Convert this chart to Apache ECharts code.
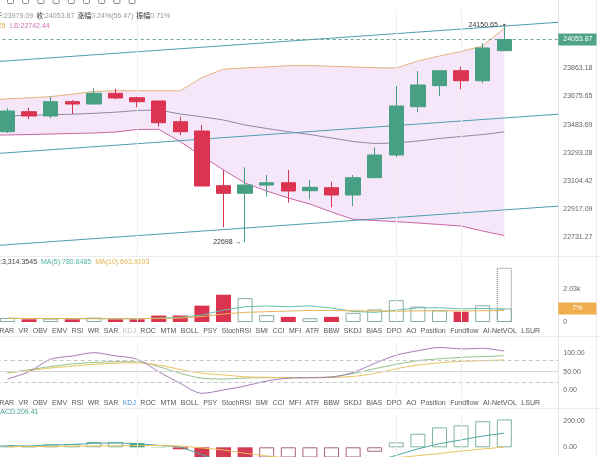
<!DOCTYPE html>
<html>
<head>
<meta charset="utf-8">
<title>K线图</title>
<script src="https://cdn.jsdelivr.net/npm/echarts@6.0.0/dist/echarts.min.js"></script>
<style>
  html, body { margin: 0; padding: 0; background: #ffffff; }
  #chart { width: 600px; height: 457px; }
</style>
</head>
<body>
<div id="chart"></div>
<script>
// ---------- data ----------
const slots = Array.from({ length: 26 }, (_, i) => String(i + 1)); // 24 candles + 2 empty slots on the right

const candleOpen  = [23437.1, 23570.9, 23542.2, 23637.8, 23622.4, 23694.0, 23664.5, 23642.5, 23503.8, 23441.8, 23075.9, 23025.0, 23080.0, 23095.9, 23042.4, 23062.5, 23013.7, 23129.4, 23281.3, 23604.4, 23744.9, 23845.2, 23778.3, 23979.09];
const candleClose = [23575.6, 23542.2, 23637.8, 23622.4, 23694.0, 23662.6, 23637.8, 23497.3, 23437.1, 23073.9, 23025.0, 23080.6, 23095.9, 23040.4, 23065.2, 23013.7, 23129.4, 23281.3, 23609.1, 23749.6, 23845.2, 23778.3, 23997.4, 24053.87];
const candleLow   = [23428.4, 23522.1, 23526.8, 23555.5, 23618.0, 23653.9, 23600.4, 23470.6, 23415.1, 23073.9, 22797.6, 22698.0, 23002.3, 22962.1, 22984.9, 22931.4, 22940.1, 23129.4, 23265.9, 23566.9, 23676.0, 23720.8, 23761.0, 23979.09];
const candleHigh  = [23595.7, 23597.7, 23671.3, 23649.2, 23727.5, 23724.8, 23671.3, 23645.0, 23537.5, 23482.0, 23180.9, 23199.0, 23147.5, 23180.9, 23114.0, 23102.6, 23147.5, 23332.8, 23742.9, 23843.2, 23845.2, 23872.0, 24028.5, 24150.65];

// Bollinger bands (the *Edge values sit at the left border, half a slot before the first candle)
const bollUpper = [23657.2, 23663.9, 23671.9, 23688.0, 23706.1, 23711.4, 23711.4, 23711.4, 23711.4, 23799.1, 23855.3, 23863.3, 23870.6, 23878.7, 23879.3, 23874.7, 23870.0, 23865.3, 23863.3, 23910.1, 23943.6, 23973.7, 24010.5, 24129.25];
const bollMid   = [23543.5, 23546.2, 23550.2, 23554.2, 23560.2, 23567.6, 23579.0, 23582.3, 23555.5, 23536.8, 23515.4, 23482.0, 23458.5, 23437.1, 23418.4, 23395.0, 23371.6, 23358.2, 23361.5, 23374.9, 23391.6, 23405.0, 23418.4, 23435.85];
const bollLower = [23415.1, 23418.4, 23421.7, 23425.1, 23428.4, 23435.1, 23451.8, 23453.2, 23370.2, 23274.6, 23180.9, 23093.9, 23040.4, 22993.6, 22953.4, 22899.9, 22851.1, 22843.1, 22835.0, 22826.3, 22816.3, 22806.3, 22772.8, 22742.44];
const bollUpperEdge = 23653.9;
const bollMidEdge   = 23542.2;
const bollLowerEdge = 23415.1;

// Regression channel: [start, end] in slot units and prices
const channelSpan  = [-0.35, 25.5];
const channelUpper = [23907.6, 24169.2];
const channelMid   = [23292.6, 23554.2];
const channelLower = [22677.6, 22939.2];

// Volume
const volume         = [250, 167, 208, 167, 271, 167, 167, 396, 396, 1000, 1667, 1458, 417, 313, 230, 313, 560, 770, 1330, 940, 710, 625, 1020, 830];
const volumeForecast = 3314.3545;
const volumeMA5      = [230, 210, 215, 200, 210, 200, 195, 240, 280, 430, 730, 930, 980, 930, 990, 850, 650, 590, 720, 870, 870, 800, 830, 780.8485];
const volumeMA10     = [220, 215, 210, 210, 205, 205, 205, 220, 240, 330, 490, 590, 630, 670, 700, 700, 690, 670, 660, 680, 690, 680, 690, 693.9103];

// KDJ
const kdjK = [46, 55, 64, 71, 75, 77, 77, 63.5, 45.5, 32, 30, 32.7, 33.5, 33.5, 34, 36, 45, 58, 70, 80, 85, 89, 91, 93.5];
const kdjD = [48, 53, 60, 65, 70, 73, 74, 68, 56, 45.5, 41, 36, 34.6, 33.5, 33.5, 34, 37, 45, 58, 68, 74, 78, 80, 82];
const kdjJ = [30, 50, 84, 92.6, 101.7, 93, 84, 50, 18, -9, 0, 11, 24.5, 32, 33.5, 35, 48, 72.6, 95, 107, 116, 112, 113.5, 106];
const kdjLevels = [80, 50, 20];

// MACD
const macdHist = [15, 8, 22, 25, 40, 40, 30, 2, -15, -120, -180, -200, -190, -170, -140, -110, -80, -33, 37, 102, 150, 165, 196, 209.41];
const macdDIF  = [12, 10, 18, 21, 30, 32, 28, 14, 3, -55, -110, -145, -160, -165, -160, -150, -135, -108, -60, -12, 28, 55, 85, 107];
const macdDEA  = [4, 6, 7, 9, 10, 12, 13, 13, 10, -5, -20, -45, -65, -80, -90, -95, -95, -92, -78, -63, -47, -28, -13, 2];

// Axis tick labels
const priceTicks  = [23863.18, 23675.65, 23483.69, 23293.28, 23104.42, 22917.09, 22731.27];
const volumeTicks = [0, 2030];
const kdjTicks    = [0, 50, 100];
const macdTicks   = [0, 200];

const indicatorTabs = ['MRAR', 'VR', 'OBV', 'EMV', 'RSI', 'WR', 'SAR', 'KDJ', 'ROC', 'MTM', 'BOLL', 'PSY', 'StochRSI', 'SMI', 'CCI', 'MFI', 'ATR', 'BBW', 'SKDJ', 'BIAS', 'DPO', 'AO', 'Position', 'Fundflow', 'AI-NetVOL', 'LSUR'];
const gridMarks = [6, 18, 21];   // slot indices carrying a vertical guide line
const volumeTag = '7%';

// ---------- styling ----------
const FONT = '"Liberation Sans", "Noto Sans CJK SC", sans-serif';
const UP = '#47a083';
const DOWN = '#db3350';
const last = candleClose.length - 1;

const GRID_LEFT = -3.3, GRID_WIDTH = 561.6;
const panels = [
  { top: 10,  height: 245 },
  { top: 260, height: 62 },
  { top: 343, height: 54 },
  { top: 415, height: 42 }
];
const AXIS_X = GRID_LEFT + GRID_WIDTH;

const measureCtx = document.createElement('canvas').getContext('2d');
function textWidth(str, size) {
  measureCtx.font = size + 'px ' + FONT;
  return measureCtx.measureText(str).width;
}
function textEl(str, x, y, color, size, align) {
  return {
    type: 'text', x: x, y: y, z: 20, silent: true,
    style: { text: str, fill: color, font: size + 'px ' + FONT, align: align || 'left', verticalAlign: 'middle' }
  };
}
function textRow(parts, x, y, size) {
  const out = [];
  let cx = x;
  parts.forEach(p => {
    out.push(textEl(p.text, cx, y, p.color, size));
    cx += textWidth(p.text, size) + (p.gap || 0);
  });
  return out;
}
function tabRow(y, activeColor) {
  const size = 7;
  const widths = indicatorTabs.map(t => textWidth(t, size));
  const total = widths.reduce((a, b) => a + b, 0);
  const startX = -6.5, endX = 540;
  const gap = (endX - startX - total) / (indicatorTabs.length - 1);
  const out = [];
  let cx = startX;
  indicatorTabs.forEach((t, i) => {
    out.push(textEl(t, cx, y, t === 'KDJ' ? activeColor : '#555', size));
    cx += widths[i] + gap;
  });
  return out;
}
function hline(y, color) {
  return { type: 'line', z: 1, silent: true, shape: { x1: 0, y1: y, x2: 600, y2: y }, style: { stroke: color, lineWidth: 1 } };
}
function vline(x, color) {
  return { type: 'line', z: 1, silent: true, shape: { x1: x, y1: 0, x2: x, y2: 457 }, style: { stroke: color, lineWidth: 1 } };
}
// toolbar icons along the top edge (only their lower halves are in view)
function toolbarIcons() {
  const out = [];
  let x = 7;
  for (let i = 0; i < 9; i++) {
    out.push({ type: 'rect', z: 20, silent: true, shape: { x: x + 0.5, y: -4.5, width: 6, height: 8, r: 1 },
               style: { fill: 'none', stroke: '#8a8a8a', lineWidth: 1 } });
    x += 15.2;
  }
  return out;
}
function sideAxis(gridIndex, min, max, ticks, fmt) {
  return {
    type: 'value', gridIndex, position: 'right', min, max,
    axisLine: { show: false }, axisTick: { show: false }, splitLine: { show: false },
    axisLabel: { customValues: ticks, formatter: fmt, fontSize: 7, color: '#666', margin: 5, fontFamily: FONT }
  };
}
const guideLines = {
  silent: true, symbol: 'none', label: { show: false },
  lineStyle: { color: '#eeeeee', width: 1, type: 'solid' },
  data: gridMarks.map(i => ({ xAxis: i }))
};

// ---------- series data ----------
const candles = candleOpen.map((o, i) => [o, candleClose[i], candleLow[i], candleHigh[i]]);
const isUp = i => candleClose[i] >= candleOpen[i];
const bandData = (edge, vals) => [[channelSpan[0], edge]].concat(vals.map((v, i) => [i, v]));

const volumeItems = volume.map((v, i) => ({
  value: v,
  itemStyle: isUp(i)
    ? { color: 'rgba(255,255,255,0)', borderColor: '#86ad9f', borderWidth: 1 }
    : { color: DOWN, borderColor: DOWN, borderWidth: 0 }
}));
const forecastItems = volume.map((_, i) => (i === last ? volumeForecast : '-'));

const macdItems = macdHist.map((v, i) => {
  const prev = i > 0 ? macdHist[i - 1] : -Infinity;
  let style;
  if (v >= 0) {
    style = v >= prev
      ? { color: 'rgba(255,255,255,0)', borderColor: '#7fb49c', borderWidth: 1 }
      : { color: UP, borderColor: UP, borderWidth: 0 };
  } else {
    style = v <= prev
      ? { color: '#d23a52', borderColor: '#d23a52', borderWidth: 0 }
      : { color: 'rgba(255,255,255,0)', borderColor: '#a86470', borderWidth: 1 };
  }
  return { value: v, itemStyle: style };
});

const channelData = vals => channelSpan.map((x, i) => [x, vals[i]]);
const plainLine = (name, data, color, xi, yi, extra) => Object.assign({
  name, type: 'line', data, xAxisIndex: xi, yAxisIndex: yi,
  showSymbol: false, symbol: 'none', lineStyle: { color, width: 1 }, z: 3
}, extra || {});

// ---------- header texts ----------
const prevClose = candleClose[last - 1];
const change = candleClose[last] - prevClose;
const changePct = change / prevClose * 100;
const amplitude = (candleHigh[last] - candleLow[last]) / prevClose * 100;
const valColor = '#8f9a97';
const dark = '#333';

const graphics = [].concat(
  toolbarIcons(),
  textRow([
    { text: '开:', color: dark },
    { text: candleOpen[last].toFixed(2), color: valColor, gap: 3 },
    { text: '收:', color: dark },
    { text: candleClose[last].toFixed(2), color: valColor, gap: 3 },
    { text: '涨幅', color: dark },
    { text: changePct.toFixed(2) + '%(' + change.toFixed(2) + ')', color: valColor, gap: 3 },
    { text: '振幅', color: dark },
    { text: (Math.floor(amplitude * 100) / 100).toFixed(2) + '%', color: valColor }
  ], -5, 16, 7),
  [textEl('UB:' + bollUpper[last].toFixed(2), 5.5, 26, '#e2ad45', 7, 'right')],
  textRow([{ text: 'LB:' + bollLower[last].toFixed(2), color: '#d374b0' }], 10, 26, 7),
  [textEl('成交量:', 2, 262, '#444', 7, 'right')],
  textRow([
    { text: volumeForecast.toLocaleString('en-US', { minimumFractionDigits: 4 }), color: '#444', gap: 4 },
    { text: 'MA(5):' + volumeMA5[last].toFixed(4), color: '#4fb3a2', gap: 4 },
    { text: 'MA(10):' + volumeMA10[last].toFixed(4), color: '#e2b04a' }
  ], 2, 262, 7),
  textRow([{ text: 'MACD:' + macdHist[last].toFixed(2), color: '#3f9f8e' }], -5.5, 412, 7),
  tabRow(331, '#bdbdbd'),
  tabRow(402.7, '#4b8fd6'),
  [hline(256.5, '#ececec'), hline(336.5, '#ececec'), hline(408.5, '#ececec'),
   vline(Math.round(AXIS_X) + 0.5, '#e6e6e6'), vline(596.5, '#ececec')]
);

// ---------- option ----------
const option = {
  animation: false,
  backgroundColor: '#ffffff',
  textStyle: { fontFamily: FONT },
  grid: panels.map(p => ({ left: GRID_LEFT, width: GRID_WIDTH, top: p.top, height: p.height, outerBoundsMode: 'none', containLabel: false })),
  xAxis: panels.map((_, g) => ({ type: 'category', gridIndex: g, data: slots, boundaryGap: true, show: false }))
    .concat([{ type: 'value', gridIndex: 0, min: -0.5, max: 25.5, show: false }]),
  yAxis: [
    sideAxis(0, 22612.3, 24251.3, priceTicks, v => v.toFixed(2)),
    sideAxis(1, 0, 3790, volumeTicks, v => (v === 0 ? '0' : (v / 1000).toFixed(2) + 'k')),
    sideAxis(2, -19.1, 128.1, kdjTicks, v => v.toFixed(2)),
    sideAxis(3, -72.9, 242.9, macdTicks, v => v.toFixed(2))
  ],
  series: [
    // Bollinger band fill: lavender under the upper band, white under the lower band
    plainLine('UB', bandData(bollUpperEdge, bollUpper), '#e4b27c', 4, 0, { z: 1, areaStyle: { color: '#f5e7f9', opacity: 1, origin: 'start' } }),
    plainLine('LB', bandData(bollLowerEdge, bollLower), '#c9679f', 4, 0, { z: 1, areaStyle: { color: '#ffffff', opacity: 1, origin: 'start' } }),
    plainLine('MB', bandData(bollMidEdge, bollMid), '#8c8aa2', 4, 0, { z: 2 }),
    plainLine('通道上轨', channelData(channelUpper), '#4d9db0', 4, 0),
    plainLine('通道中轨', channelData(channelMid), '#4d9db0', 4, 0),
    plainLine('通道下轨', channelData(channelLower), '#4d9db0', 4, 0),
    {
      name: 'K线', type: 'candlestick', xAxisIndex: 0, yAxisIndex: 0, data: candles, barWidth: 15, z: 5,
      itemStyle: { color: UP, color0: DOWN, borderColor: UP, borderColor0: DOWN, borderWidth: 1 },
      markLine: {
        silent: true, symbol: 'none',
        lineStyle: { color: '#6f9f8f', width: 1, type: [3, 3] },
        label: {
          position: 'end', distance: 0, formatter: () => candleClose[last].toFixed(2),
          backgroundColor: '#4fa386', color: '#fff', fontSize: 7, padding: [3, 4, 2, 5], fontFamily: FONT
        },
        data: [{ yAxis: candleClose[last] }]
      },
      markPoint: {
        silent: true,
        data: [
          {
            coord: [last, candleHigh[last]], value: candleHigh[last],
            symbol: 'circle', symbolSize: 2.5, itemStyle: { color: '#555' },
            label: { show: true, position: 'left', distance: 1, color: '#333', fontSize: 7, fontFamily: FONT,
                     formatter: p => p.value.toFixed(2) + ' -' }
          },
          {
            coord: [11, candleLow[11]], value: candleLow[11],
            symbol: 'circle', symbolSize: 1, itemStyle: { color: 'rgba(0,0,0,0)' },
            label: { show: true, position: 'left', distance: 3, color: '#333', fontSize: 7, fontFamily: FONT,
                     formatter: p => p.value + ' →' }
          }
        ]
      }
    },
    // guide lines drawn over the band fill
    plainLine('guide', [], '#eeeeee', 0, 0, { z: 2, markLine: guideLines }),

    // Volume panel
    {
      name: '预估量', type: 'bar', xAxisIndex: 1, yAxisIndex: 1, data: forecastItems, barWidth: 15, barGap: '-100%', z: 2,
      itemStyle: { color: 'rgba(255,255,255,0)', borderColor: '#777', borderWidth: 1, borderType: 'dotted' }
    },
    {
      name: '成交量', type: 'bar', xAxisIndex: 1, yAxisIndex: 1, data: volumeItems, barWidth: 15, barGap: '-100%', z: 3
    },
    plainLine('MA5', volumeMA5, '#63bfae', 1, 1, {
      z: 4,
      markLine: {
        silent: true, symbol: 'none', lineStyle: { color: 'rgba(0,0,0,0)', width: 1 },
        label: { show: true, position: 'end', distance: 0, formatter: volumeTag, backgroundColor: '#f0ad4e', color: '#fff',
                 fontSize: 7, padding: [3, 14, 2, 14], fontFamily: FONT },
        data: [{ yAxis: volume[last] }]
      }
    }),
    plainLine('MA10', volumeMA10, '#e6b452', 1, 1, { z: 4, markLine: guideLines }),

    // KDJ panel
    plainLine('K', kdjK, '#93c08a', 2, 2, {
      smooth: 0.3,
      markLine: {
        silent: true, symbol: 'none', label: { show: false },
        data: kdjLevels.map(v => ({ yAxis: v, lineStyle: { color: v === 50 ? '#d6d6d6' : '#c6c6c6', type: v === 50 ? 'solid' : [4, 3], width: 1 } }))
      }
    }),
    plainLine('D', kdjD, '#ebc35e', 2, 2, { smooth: 0.3 }),
    plainLine('J', kdjJ, '#a87cb8', 2, 2, { smooth: 0.3, markLine: guideLines }),

    // MACD panel
    { name: 'MACD', type: 'bar', xAxisIndex: 3, yAxisIndex: 3, data: macdItems, barWidth: 15, z: 2 },
    plainLine('DIF', macdDIF, '#4aa7a0', 3, 3, { markLine: guideLines }),
    plainLine('DEA', macdDEA, '#e8c35b', 3, 3)
  ],
  graphic: graphics
};

const chart = echarts.init(document.getElementById('chart'), null, { renderer: 'canvas' });
chart.setOption(option);
</script>
</body>
</html>
